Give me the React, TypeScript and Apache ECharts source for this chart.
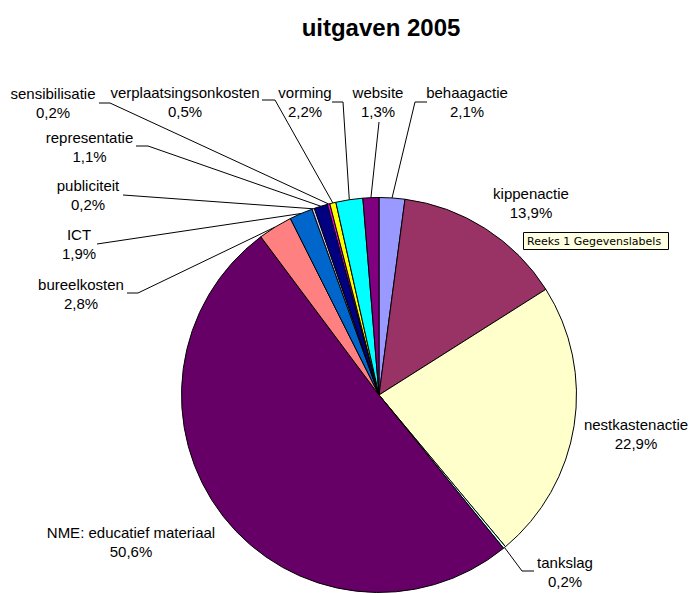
import React, { useEffect, useRef } from 'react';
import * as echarts from 'echarts';

const titleText = 'uitgaven 2005';
const hintText = 'Reeks 1 Gegevenslabels';

const categories = [
  'behaagactie',
  'kippenactie',
  'nestkastenactie',
  'tankslag',
  'NME: educatief materiaal',
  'bureelkosten',
  'ICT',
  'publiciteit',
  'representatie',
  'sensibilisatie',
  'verplaatsingsonkosten',
  'vorming',
  'website',
];

const shares = [2.1, 13.9, 22.9, 0.2, 50.6, 2.8, 1.9, 0.2, 1.1, 0.2, 0.5, 2.2, 1.3];

const sliceColors = [
  '#9999FF', '#993366', '#FFFFCC', '#CCFFFF', '#660066', '#FF8080', '#0066CC',
  '#CCCCFF', '#000080', '#FF00FF', '#FFFF00', '#00FFFF', '#800080',
];

// Layout of the data labels (Excel-style placement): block centre, and leader line attach/bend points.
type Spot = { x: number; y: number; line?: [number, number][] };
const labelSpots: Spot[] = [
  { x: 467, y: 102, line: [[427, 102], [415, 102]] },
  { x: 531, y: 203 },
  { x: 636, y: 434 },
  { x: 565, y: 572, line: [[534, 571], [522, 571]] },
  { x: 131, y: 542 },
  { x: 81, y: 294, line: [[127, 293], [138, 293]] },
  { x: 79, y: 244, line: [[97, 244], [97, 244]] },
  { x: 88, y: 195, line: [[123, 195], [123, 195]] },
  { x: 89.5, y: 146.5, line: [[136, 146], [148, 146]] },
  { x: 53, y: 102.5, line: [[99, 103], [110, 103]] },
  { x: 185, y: 102, line: [[262, 100], [275, 100]] },
  { x: 305, y: 102, line: [[332, 102], [343, 102]] },
  { x: 378, y: 102, line: [[379, 122], [379, 122]] },
];

const fmt = (v: number) => String(v).replace('.', ',') + '%';

export default function App() {
  const ref = useRef<HTMLDivElement>(null);

  useEffect(() => {
    document.body.style.margin = '0';
    if (!ref.current) return;
    const chart = echarts.init(ref.current, undefined, { renderer: 'svg' });

    const data = categories.map((name, i) => ({
      name,
      value: shares[i],
      itemStyle: { color: sliceColors[i] },
      labelLine: { show: !!labelSpots[i].line },
    }));

    chart.setOption({
      animation: false,
      backgroundColor: '#FFFFFF',
      title: {
        text: titleText,
        left: 376,
        top: 10,
        textAlign: 'center',
        textStyle: {
          fontFamily: 'Arial, "Liberation Sans", sans-serif',
          fontSize: 24,
          fontWeight: 'bold',
          color: '#000000',
        },
      },
      graphic: [
        {
          type: 'rect',
          shape: { x: 523.5, y: 232.5, width: 145, height: 17 },
          style: { fill: '#FFFFE1', stroke: '#000000', lineWidth: 1 },
          silent: true,
        },
        {
          type: 'text',
          x: 527,
          y: 241,
          style: {
            text: hintText,
            fontFamily: '"DejaVu Sans", Verdana, sans-serif',
            fontSize: 11,
            fill: '#000000',
            verticalAlign: 'middle',
            align: 'left',
          },
          silent: true,
        },
      ],
      series: [
        {
          type: 'pie',
          center: [379, 395],
          radius: 197.5,
          startAngle: 90,
          clockwise: true,
          avoidLabelOverlap: false,
          silent: true,
          itemStyle: { borderColor: '#000000', borderWidth: 1 },
          label: {
            show: true,
            position: 'outside',
            formatter: (p: any) => `${p.name}\n${fmt(p.value)}`,
            fontFamily: 'Arial, "Liberation Sans", sans-serif',
            fontSize: 15,
            lineHeight: 19,
            color: '#000000',
            align: 'center',
          },
          labelLine: {
            show: true,
            lineStyle: { color: '#000000', width: 1 },
          },
          labelLayout: (params: any) => {
            const spot = labelSpots[params.dataIndex];
            const out: any = { x: spot.x, y: spot.y, align: 'center', verticalAlign: 'middle' };
            if (spot.line && params.labelLinePoints && params.labelLinePoints[0]) {
              const p0 = params.labelLinePoints[0];
              out.labelLinePoints = [[p0[0], p0[1]], spot.line[1], spot.line[0]];
            }
            return out;
          },
          data,
        },
      ],
    });

    return () => chart.dispose();
  }, []);

  return <div ref={ref} style={{ width: 690, height: 593 }} />;
}
